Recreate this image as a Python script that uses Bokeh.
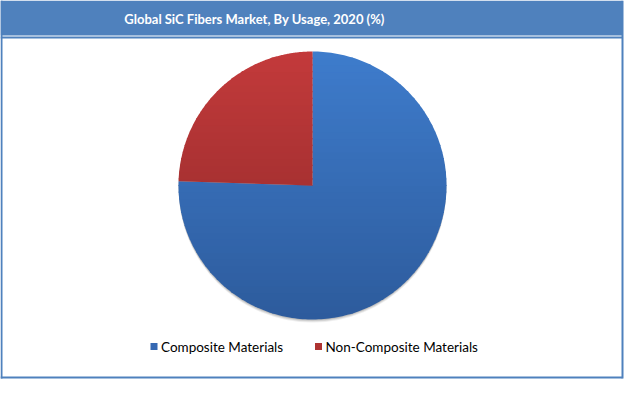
import numpy as np
from bokeh.plotting import figure
from bokeh.models import Range1d, ColumnDataSource
from bokeh.core.properties import value
from bokeh.embed import file_html
from bokeh.resources import INLINE

# ---- data ----
title_text = "Global SiC Fibers Market, By Usage, 2020 (%)"
categories = ["Composite Materials", "Non-Composite Materials"]
shares = [75.5, 24.5]
colors = ["#3569B3", "#AE3331"]          # legend colours
top_colors = ["#3E7CCC", "#C33A3B"]      # gradient top
bottom_colors = ["#2D5B9C", "#8C2828"]   # gradient bottom

W, H = 624, 380
FRAME = "#4F81BD"

p = figure(width=W, height=H, output_backend="svg", toolbar_location=None,
           x_range=Range1d(0, W), y_range=Range1d(0, H), min_border=0)
p.axis.visible = False
p.grid.visible = False
p.outline_line_color = None
p.background_fill_color = "white"
p.border_fill_color = "white"

def Y(y):
    return H - y

# title bar
p.quad(left=0, right=622, top=Y(0), bottom=Y(35), fill_color=FRAME, line_color=None)
p.text(x=[254], y=[Y(18)], text=[title_text], text_align="center", text_baseline="middle",
       text_color="white", text_font=value("Lato"), text_font_style="bold", text_font_size="13px")
# frame lines
p.segment(x0=[1, 622, 0, 0], y0=[Y(0), Y(0), Y(377), Y(37)],
          x1=[1, 622, 622, 622], y1=[Y(378), Y(378), Y(377), Y(37)],
          line_color=FRAME, line_width=2)

# pie
cx, cy, r = 312, Y(185), 134
fr = np.array(shares) / sum(shares)
ends = np.pi / 2 - 2 * np.pi * np.cumsum(fr)
starts = np.concatenate([[np.pi / 2], ends[:-1]])

# soft shadow
for k, a in [(3, 0.10), (2, 0.15), (1, 0.2)]:
    p.circle(x=cx, y=cy - k, radius=r, fill_color="#555555", fill_alpha=a, line_color=None)

def hex2rgb(h):
    return np.array([int(h[i:i + 2], 16) for i in (1, 3, 5)], float)

def rgb2hex(c):
    return "#%02x%02x%02x" % tuple(int(round(v)) for v in c)

def clip(poly, yv, keep_above):
    out = []
    n = len(poly)
    for i in range(n):
        a, b = poly[i], poly[(i + 1) % n]
        ina = (a[1] >= yv) if keep_above else (a[1] <= yv)
        inb = (b[1] >= yv) if keep_above else (b[1] <= yv)
        if ina:
            out.append(a)
        if ina != inb:
            t = (yv - a[1]) / (b[1] - a[1])
            out.append((a[0] + t * (b[0] - a[0]), yv))
    return out

nb = 40
edges = np.linspace(cy - r, cy + r, nb + 1)
xs, ys, cs = [], [], []
for s0, e0, ct, cb in zip(ends, starts, top_colors, bottom_colors):
    th = np.linspace(e0, s0, 240)
    poly = [(cx, cy)] + [(cx + r * np.cos(t), cy + r * np.sin(t)) for t in th]
    ct, cb = hex2rgb(ct), hex2rgb(cb)
    for j in range(nb):
        yb, yt = edges[j], edges[j + 1]
        q = clip(clip(poly, yb - 0.6, True), yt + 0.6, False)
        if len(q) < 3:
            continue
        f = ((yb + yt) / 2 - (cy - r)) / (2 * r)   # 0 bottom .. 1 top
        col = rgb2hex(cb + (ct - cb) * f)
        xs.append([pt[0] for pt in q])
        ys.append([pt[1] for pt in q])
        cs.append(col)

p.patches(xs="xs", ys="ys", fill_color="cs", line_color=None,
          source=ColumnDataSource(dict(xs=xs, ys=ys, cs=cs)))

# legend
lx = [153.5, 318]
ly = Y(346)
p.scatter(x=lx, y=[ly, ly], marker="square", size=7, fill_color=colors, line_color=None)
p.text(x=[x + 7 for x in lx], y=[ly, ly], text=categories, text_baseline="middle",
       text_color="black", text_font=value("Lato"), text_font_size="13.5px")

open("out.html", "w").write(file_html(p, INLINE))
